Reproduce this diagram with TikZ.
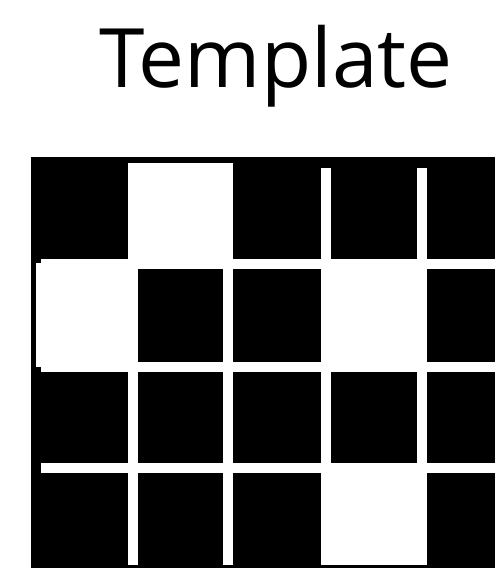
\documentclass[tikz,border=0pt]{standalone}
\usepackage{fontspec}
\setmainfont{Open Sans}
\begin{document}
\begin{tikzpicture}[
    x=0.5pt, y=-0.5pt,
    every node/.style={inner sep=0pt},
    titulo/.style={font=\fontsize{41}{50}\selectfont, text=black},
    fondo/.style={fill=black},
    hueco/.style={fill=white},
    celda/.style={fill=white}
]
    \useasboundingbox (0,0) rectangle (495,568);

    \node[titulo, anchor=base] (titulo) at (276,87) {Template};

    % Fondo
    \fill[fondo] (31,157) rectangle (495,568);

    % Separaciones
    \foreach \x in {128,223,321,417}
        \fill[hueco] (\x,168) rectangle ++(10,397);
    \foreach \y in {259,362,463}
        \fill[hueco] (41,\y) rectangle ++(454,10);

    % Celdas blancas
    \fill[celda] (128,163) rectangle (233,259);
    \fill[celda] (36,263) rectangle (128,367);
    \fill[celda] (321,259) rectangle (427,372);
    \fill[celda] (321,463) rectangle (427,565);
\end{tikzpicture}
\end{document}
